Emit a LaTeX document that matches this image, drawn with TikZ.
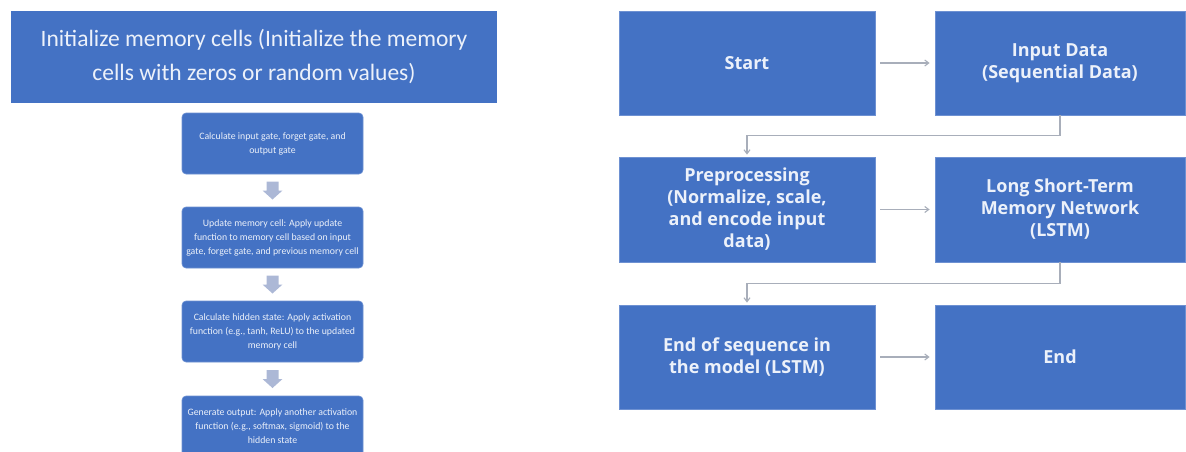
\documentclass[tikz,border=0pt]{standalone}
\usepackage{fontspec}
\setmainfont{Carlito}
\newfontfamily\rfont{Open Sans}
\usetikzlibrary{arrows.meta,calc}
\definecolor{boxblue}{RGB}{68,114,196}
\definecolor{boxedge}{RGB}{110,145,210}
\definecolor{txtc}{RGB}{236,241,250}
\definecolor{conn}{RGB}{168,174,186}
\definecolor{barrow}{RGB}{172,184,214}
\tikzset{
  bigbox/.style={rectangle, fill=boxblue, draw=none, text=txtc, align=center, inner sep=0pt,
    font=\fontsize{23.5}{34}\selectfont},
  smallbox/.style={rectangle, rounded corners=4pt, fill=boxblue, draw=boxedge, line width=0.6pt,
    text=txtc, align=center, inner sep=0pt, minimum width=181pt, minimum height=61pt,
    font=\fontsize{9.8}{14}\selectfont},
  flowbox/.style={rectangle, fill=boxblue, draw=boxedge, line width=0.8pt, text=txtc, align=center,
    inner sep=0pt, minimum height=104pt, font=\rfont\bfseries\fontsize{18}{22}\selectfont},
  conn/.style={draw=conn, line width=1.1pt, -{Straight Barb[length=4pt,width=6pt]}},
}
\begin{document}
\begin{tikzpicture}[x=1pt,y=-1pt]
\useasboundingbox (0,0) rectangle (1186,452);
\clip (0,0) rectangle (1186,452);
% left part
\node[bigbox, minimum width=486pt, minimum height=92pt] (init) at (254,57)
  {Initialize memory cells (Initialize the memory\\cells with zeros or random values)};
\node[smallbox] (s1) at (272.5,143.5) {Calculate input gate, forget gate, and\\output gate};
\node[smallbox] (s2) at (272.5,237.5) {Update memory cell: Apply update\\function to memory cell based on input\\gate, forget gate, and previous memory cell};
\node[smallbox] (s3) at (272.5,331.5) {Calculate hidden state: Apply activation\\function (e.g., tanh, ReLU) to the updated\\memory cell};
\node[smallbox] (s4) at (272.5,426.5) {Generate output: Apply another activation\\function (e.g., softmax, sigmoid) to the\\hidden state};
\foreach \a/\b in {s1/s2,s2/s3,s3/s4}{
  \begin{scope}[shift={($(\a.south)!0.5!(\b.north)$)}]
    \fill[barrow] (-6,-9) -- (6,-9) -- (6,0) -- (10,0) -- (0,9) -- (-10,0) -- (-6,0) -- cycle;
  \end{scope}
}
% right part
\node[flowbox, minimum width=256pt] (start) at (747,63) {Start};
\node[flowbox, minimum width=250pt] (input) at (1060,63) {Input Data\\(Sequential Data)};
\node[flowbox, minimum width=256pt, minimum height=105pt] (prep) at (747,209.5) {Preprocessing\\(Normalize, scale,\\and encode input\\data)};
\node[flowbox, minimum width=250pt, minimum height=105pt] (lstm) at (1060,209.5) {Long Short-Term\\Memory Network\\(LSTM)};
\node[flowbox, minimum width=256pt] (endseq) at (747,357) {End of sequence in\\the model (LSTM)};
\node[flowbox, minimum width=250pt] (end) at (1060,357) {End};
\draw[conn, shorten <=5pt, shorten >=5pt] (start.east) -- (input.west);
\draw[conn, shorten >=2pt] (input.south) -- ++(0,20) -| (prep.north);
\draw[conn, shorten <=5pt, shorten >=5pt] (prep.east) -- (lstm.west);
\draw[conn, shorten >=2pt] (lstm.south) -- ++(0,21) -| (endseq.north);
\draw[conn, shorten <=5pt, shorten >=5pt] (endseq.east) -- (end.west);
\end{tikzpicture}
\end{document}
